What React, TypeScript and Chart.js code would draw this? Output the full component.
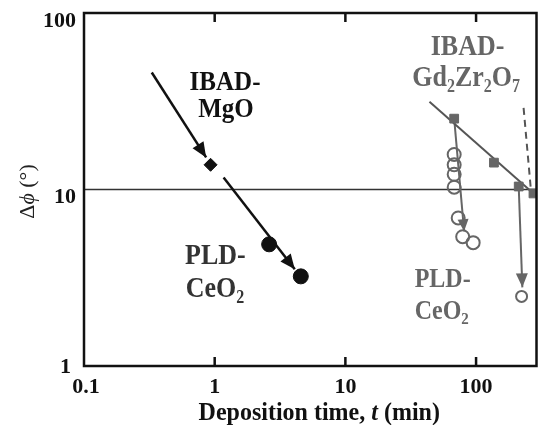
import React, { useEffect, useRef } from "react";
import { Chart, registerables } from "chart.js";
Chart.register(...registerables);

const SERIF = '"Liberation Serif", "Times New Roman", serif';

// ---- axis ticks ----
const X_TICKS = [0.1, 1, 10, 100];
const X_TICK_LABELS = ["0.1", "1", "10", "100"];
const Y_TICKS = [100, 10, 1];
const Y_TICK_LABELS = ["100", "10", "1"];
const X_MIN = 0.1;
const X_MAX = 290;
const Y_MIN = 1;
const Y_MAX = 100;

// ---- series (deposition time in min, Δφ in degrees) ----
const mgoArrow = [{ x: 0.33, y: 46 }, { x: 0.86, y: 15.2 }];
const mgoPoint = [{ x: 0.93, y: 13.8 }];
const ceoArrow = [{ x: 1.17, y: 11.7 }, { x: 4.1, y: 3.53 }];
const ceoPoints = [{ x: 2.61, y: 4.89 }, { x: 4.56, y: 3.22 }];
const refLine = [{ x: 0.1, y: 10 }, { x: 290, y: 10 }];
const gzoLine = [{ x: 44, y: 31.4 }, { x: 275, y: 9.5 }];
const gzoPoints = [
  { x: 68, y: 25.2 },
  { x: 137, y: 14.2 },
  { x: 212, y: 10.4 },
  { x: 275, y: 9.5 },
];
const gzoDashed = [{ x: 231, y: 29 }, { x: 262, y: 10.2 }];
const drop1 = [{ x: 68, y: 25.2 }, { x: 81, y: 5.8 }];
const drop1Circles = [
  { x: 68, y: 15.8 },
  { x: 68, y: 13.8 },
  { x: 68, y: 12.2 },
  { x: 68, y: 10.3 },
  { x: 73, y: 6.9 },
  { x: 79, y: 5.4 },
  { x: 95, y: 5.0 },
];
const drop2 = [{ x: 212, y: 10.4 }, { x: 226, y: 2.79 }];
const drop2Circle = [{ x: 223, y: 2.48 }];

type Seg = { t: string; sub?: boolean; italic?: boolean };

// annotation labels, anchored in data coordinates
const LABELS: { segs: Seg[]; x: number; y: number; size: number; color: string; align: CanvasTextAlign }[] = [
  { segs: [{ t: "IBAD-" }], x: 1.2, y: 36.7, size: 25, color: "#111", align: "center" },
  { segs: [{ t: "MgO" }], x: 1.22, y: 25.8, size: 25, color: "#111", align: "center" },
  { segs: [{ t: "PLD-" }], x: 0.593, y: 3.77, size: 26, color: "#333", align: "left" },
  { segs: [{ t: "CeO" }, { t: "2", sub: true }], x: 0.6, y: 2.46, size: 26, color: "#333", align: "left" },
  { segs: [{ t: "IBAD-" }], x: 86, y: 57.9, size: 26, color: "#666", align: "center" },
  {
    segs: [{ t: "Gd" }, { t: "2", sub: true }, { t: "Zr" }, { t: "2", sub: true }, { t: "O" }, { t: "7", sub: true }],
    x: 84, y: 38.7, size: 26, color: "#666", align: "center",
  },
  { segs: [{ t: "PLD-" }], x: 33.9, y: 2.79, size: 24, color: "#666", align: "left" },
  { segs: [{ t: "CeO" }, { t: "2", sub: true }], x: 33.9, y: 1.85, size: 24, color: "#666", align: "left" },
];

function drawRich(
  ctx: CanvasRenderingContext2D,
  segs: Seg[],
  x: number,
  y: number,
  size: number,
  weight: string,
  align: CanvasTextAlign,
  color: string,
  yScale = 1
) {
  ctx.save();
  ctx.translate(x, y);
  ctx.scale(1, yScale);
  ctx.fillStyle = color;
  ctx.textBaseline = "alphabetic";
  ctx.textAlign = "left";
  const font = (s: Seg) =>
    `${s.italic ? "italic " : ""}${weight} ${s.sub ? Math.round(size * 0.62) : size}px ${SERIF}`;
  let total = 0;
  const widths = segs.map((s) => {
    ctx.font = font(s);
    const w = ctx.measureText(s.t).width;
    total += w;
    return w;
  });
  let cx = align === "center" ? -total / 2 : align === "right" ? -total : 0;
  segs.forEach((s, i) => {
    ctx.font = font(s);
    ctx.fillText(s.t, cx, s.sub ? size * 0.2 : 0);
    cx += widths[i];
  });
  ctx.restore();
}

const decorPlugin = {
  id: "decor",
  afterDatasetsDraw(chart: any) {
    const ctx: CanvasRenderingContext2D = chart.ctx;
    // arrowheads
    chart.data.datasets.forEach((ds: any, i: number) => {
      if (!ds.arrow) return;
      const meta = chart.getDatasetMeta(i);
      const n = meta.data.length;
      const p1 = meta.data[n - 2];
      const p2 = meta.data[n - 1];
      const a = Math.atan2(p2.y - p1.y, p2.x - p1.x);
      const L = ds.arrowLen || 15;
      const W = ds.arrowW || 6.5;
      ctx.save();
      ctx.fillStyle = ds.borderColor;
      ctx.translate(p2.x, p2.y);
      ctx.rotate(a);
      ctx.beginPath();
      ctx.moveTo(0, 0);
      ctx.lineTo(-L, -W);
      ctx.lineTo(-L, W);
      ctx.closePath();
      ctx.fill();
      ctx.restore();
    });
  },
  afterDraw(chart: any) {
    const ctx: CanvasRenderingContext2D = chart.ctx;
    const { left, right, top, bottom } = chart.chartArea;
    const xs = chart.scales.x;
    const ys = chart.scales.y;
    ctx.save();
    // frame
    ctx.strokeStyle = "#111";
    ctx.lineWidth = 2.5;
    ctx.strokeRect(left, top, right - left, bottom - top);
    // inward ticks on bottom and top
    X_TICKS.forEach((v) => {
      const px = xs.getPixelForValue(v);
      if (px <= left + 2 || px >= right - 2) return;
      ctx.beginPath();
      ctx.moveTo(px, bottom);
      ctx.lineTo(px, bottom - 9);
      ctx.moveTo(px, top);
      ctx.lineTo(px, top + 9);
      ctx.stroke();
    });
    // tick labels
    ctx.fillStyle = "#111";
    ctx.font = `bold 22px ${SERIF}`;
    ctx.textAlign = "center";
    ctx.textBaseline = "middle";
    X_TICKS.forEach((v, i) => {
      const px = xs.getPixelForValue(v);
      ctx.fillText(X_TICK_LABELS[i], px + (i === 0 ? 2 : 0), bottom + 21);
    });
    ctx.textAlign = "right";
    Y_TICKS.forEach((v, i) => {
      const py = ys.getPixelForValue(v);
      const last = v === Y_MIN;
      ctx.fillText(Y_TICK_LABELS[i], last ? left - 13 : left - 8, last ? py + 1 : py + 8);
    });
    ctx.restore();

    // axis titles
    drawRich(
      ctx,
      [{ t: "Deposition time, " }, { t: "t", italic: true }, { t: " (min)" }],
      (left + right) / 2 + 9,
      bottom + 54,
      24,
      "bold",
      "center",
      "#111",
      1.05
    );
    ctx.save();
    ctx.translate(27, (top + bottom) / 2 + 2);
    ctx.rotate(-Math.PI / 2);
    drawRich(ctx, [{ t: "Δ" }, { t: "ϕ", italic: true }, { t: " (°)" }], 0, 7, 22, "normal", "center", "#222");
    ctx.restore();

    // annotations
    LABELS.forEach((l) => {
      drawRich(
        ctx,
        l.segs,
        xs.getPixelForValue(l.x),
        ys.getPixelForValue(l.y),
        l.size,
        "bold",
        l.align,
        l.color,
        1.12
      );
    });
  },
};

export default function App() {
  const ref = useRef<HTMLCanvasElement>(null);
  useEffect(() => {
    if (!ref.current) return;
    const BLACK = "#111";
    const GRAY = "#666";
    const line = (data: any, color: string, width: number, extra: any = {}) => ({
      data,
      showLine: true,
      borderColor: color,
      backgroundColor: color,
      borderWidth: width,
      pointRadius: 0,
      pointHoverRadius: 0,
      ...extra,
    });
    const marks = (data: any, style: string, r: number, fill: string, stroke: string, bw: number) => ({
      data,
      showLine: false,
      pointStyle: style,
      pointRadius: r,
      pointHoverRadius: r,
      pointBackgroundColor: fill,
      pointBorderColor: stroke,
      pointBorderWidth: bw,
      backgroundColor: fill,
      borderColor: stroke,
    });
    const chart = new Chart(ref.current, {
      type: "scatter",
      data: {
        datasets: [
          marks(mgoPoint, "rectRot", 6.5, BLACK, BLACK, 1),
          marks(ceoPoints, "circle", 7.5, BLACK, BLACK, 1),
          marks(gzoPoints, "rect", 6.2, GRAY, GRAY, 1),
          marks(drop1Circles, "circle", 6.5, "rgba(0,0,0,0)", GRAY, 2),
          marks(drop2Circle, "circle", 5.5, "rgba(255,255,255,1)", GRAY, 2),
          line(mgoArrow, BLACK, 2.5, { arrow: true, arrowLen: 15, arrowW: 6.5 }),
          line(ceoArrow, BLACK, 2.5, { arrow: true, arrowLen: 15, arrowW: 6.5 }),
          line(gzoLine, "#555", 2),
          line(gzoDashed, "#555", 2, { borderDash: [7, 5] }),
          line(drop1, GRAY, 2, { arrow: true, arrowLen: 12, arrowW: 5.5 }),
          line(drop2, GRAY, 2, { arrow: true, arrowLen: 14, arrowW: 6 }),
          line(refLine, "#333", 1.5),
        ] as any,
      },
      options: {
        animation: false,
        responsive: true,
        maintainAspectRatio: false,
        layout: { padding: { top: 13, right: 5, left: 0, bottom: 0 } },
        plugins: { legend: { display: false }, tooltip: { enabled: false } },
        events: [],
        scales: {
          x: {
            type: "logarithmic",
            min: X_MIN,
            max: X_MAX,
            grid: { display: false },
            border: { display: false },
            ticks: { display: false },
            afterFit: (s: any) => {
              s.height = 59;
            },
          },
          y: {
            type: "logarithmic",
            min: Y_MIN,
            max: Y_MAX,
            grid: { display: false },
            border: { display: false },
            ticks: { display: false },
            afterFit: (s: any) => {
              s.width = 84;
            },
          },
        },
      } as any,
      plugins: [decorPlugin],
    });
    return () => chart.destroy();
  }, []);
  return (
    <div style={{ position: "fixed", left: 0, top: 0, width: 545, height: 425, background: "#fff" }}>
      <canvas ref={ref} />
    </div>
  );
}
